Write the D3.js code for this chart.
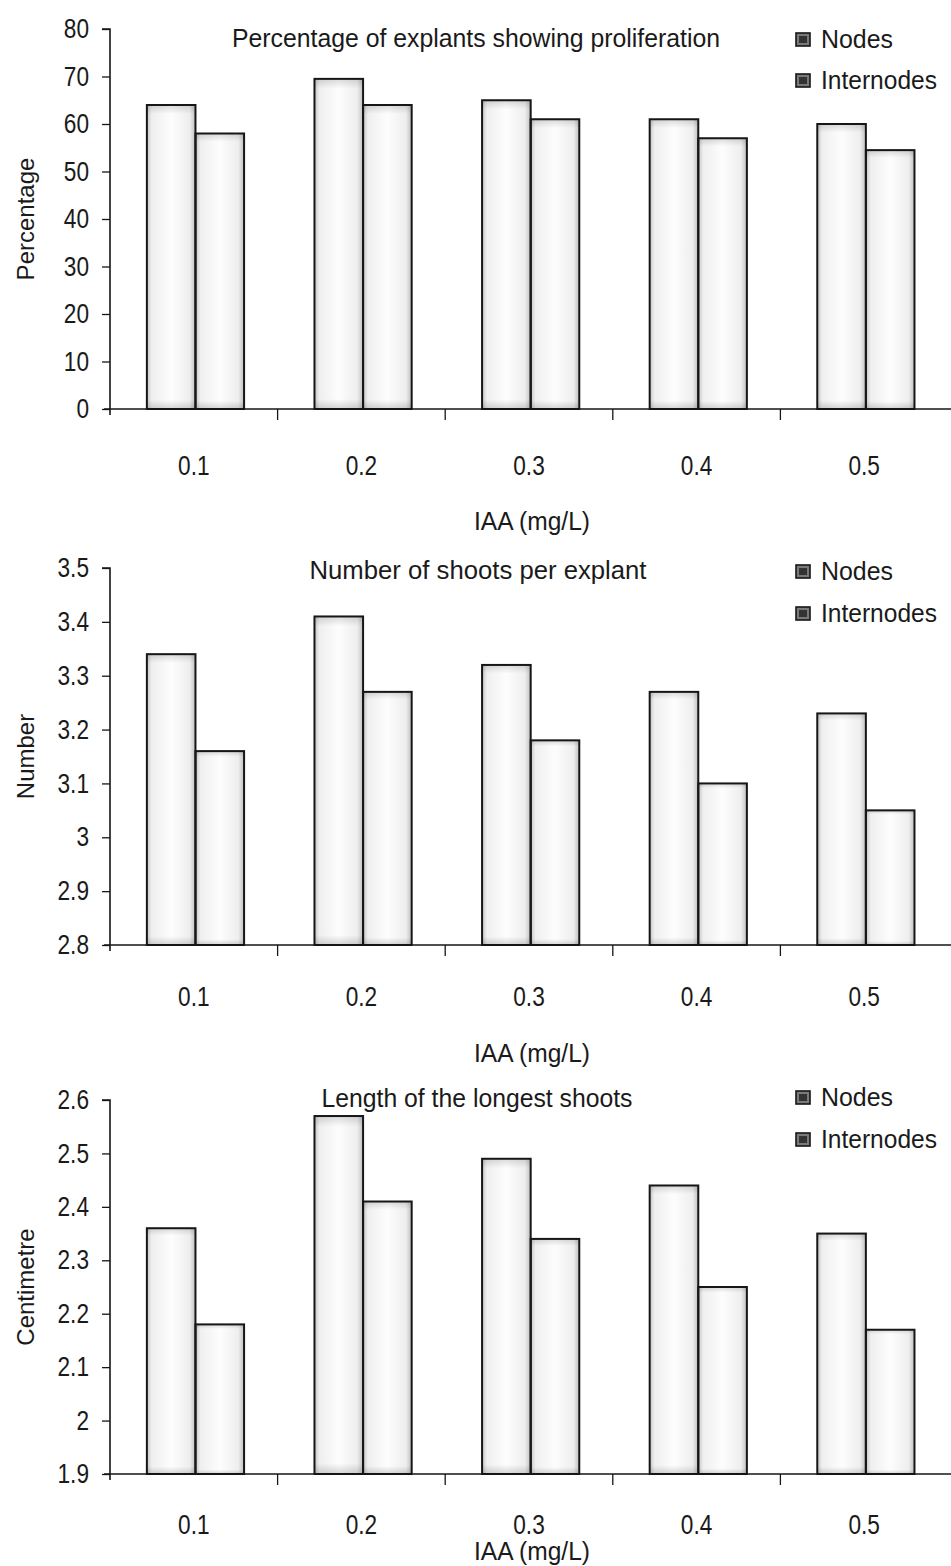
<!DOCTYPE html>
<html>
<head>
<meta charset="utf-8">
<script src="https://cdn.jsdelivr.net/npm/d3@7/dist/d3.min.js"></script>
<style>
  html, body { margin: 0; padding: 0; background: #fff; }
  svg { display: block; }
  text { font-family: "Liberation Sans", Arial, sans-serif; fill: #1a1a1a; }
</style>
</head>
<body>
<svg id="chart" width="951" height="1566"></svg>
<script>
const categories = ["0.1", "0.2", "0.3", "0.4", "0.5"];
const seriesNames = ["Nodes", "Internodes"];

const proliferationNodes = [64, 69.5, 65, 61, 60];
const proliferationInternodes = [58, 64, 61, 57, 54.5];
const proliferationTicks = [0, 10, 20, 30, 40, 50, 60, 70, 80];

const shootsNodes = [3.34, 3.41, 3.32, 3.27, 3.23];
const shootsInternodes = [3.16, 3.27, 3.18, 3.10, 3.05];
const shootsTicks = [2.8, 2.9, 3.0, 3.1, 3.2, 3.3, 3.4, 3.5];

const lengthNodes = [2.36, 2.57, 2.49, 2.44, 2.35];
const lengthInternodes = [2.18, 2.41, 2.34, 2.25, 2.17];
const lengthTicks = [1.9, 2.0, 2.1, 2.2, 2.3, 2.4, 2.5, 2.6];

const titles = ["Percentage of explants showing proliferation", "Number of  shoots per explant", "Length of the longest shoots"];
const yTitles = ["Percentage", "Number", "Centimetre"];
const xTitle = "IAA (mg/L)";

const fmt1 = d => (Math.round(d * 10) / 10).toString();
const panels = [
  { title: titles[0], yTitle: yTitles[0], nodes: proliferationNodes, inter: proliferationInternodes, ticks: proliferationTicks,
    top: 29, bottom: 409, fmt: d => String(d), titleY: 47, titleW: 488, titleX: 476, legY: [48, 89], tickOff: 66, xTitleY: 530 },
  { title: titles[1], yTitle: yTitles[1], nodes: shootsNodes, inter: shootsInternodes, ticks: shootsTicks,
    top: 568, bottom: 945, fmt: fmt1, titleY: 579, titleW: 337, titleX: 478, legY: [580, 622], tickOff: 61, xTitleY: 1062 },
  { title: titles[2], yTitle: yTitles[2], nodes: lengthNodes, inter: lengthInternodes, ticks: lengthTicks,
    top: 1100, bottom: 1474, fmt: fmt1, titleY: 1107, titleW: 311, titleX: 477, legY: [1106, 1148], tickOff: 60, xTitleY: 1560 }
];

const svg = d3.select("#chart");
const defs = svg.append("defs");
const gradH = defs.append("linearGradient").attr("id", "barShadeH").attr("x1", "0").attr("x2", "1").attr("y1", "0").attr("y2", "0");
[["0%", "#c4c4c4"], ["10%", "#efefef"], ["50%", "#fdfdfd"], ["88%", "#eeeeee"], ["100%", "#bfbfbf"]].forEach(s => gradH.append("stop").attr("offset", s[0]).attr("stop-color", s[1]));
const gradV = defs.append("linearGradient").attr("id", "barShadeV").attr("x1", "0").attr("x2", "0").attr("y1", "0").attr("y2", "1");
[["0%", "#000", 0.14], ["3%", "#000", 0.0], ["97%", "#000", 0.0], ["100%", "#000", 0.16]].forEach(s => gradV.append("stop").attr("offset", s[0]).attr("stop-color", s[1]).attr("stop-opacity", s[2]));

const left = 110, right = 948;
const ink = "#161616";

panels.forEach(p => {
  const g = svg.append("g");
  const x = d3.scaleBand().domain(categories).range([left, right]).paddingInner(0).paddingOuter(0);
  const bw = x.bandwidth();
  const x1 = d3.scaleBand().domain(seriesNames).range([bw * 0.22, bw * 0.80]).padding(0);
  const y = d3.scaleLinear().domain([p.ticks[0], p.ticks[p.ticks.length - 1]]).range([p.bottom, p.top]);

  const rows = categories.map((c, i) => ({ cat: c, vals: [{ s: "Nodes", v: p.nodes[i] }, { s: "Internodes", v: p.inter[i] }] }));

  const grp = g.selectAll("g.cat").data(rows).join("g").attr("class", "cat").attr("transform", d => `translate(${x(d.cat)},0)`);
  grp.selectAll("rect.bar").data(d => d.vals).join("rect").attr("class", "bar")
    .attr("x", d => x1(d.s)).attr("width", x1.bandwidth())
    .attr("y", d => y(d.v)).attr("height", d => y(p.ticks[0]) - y(d.v))
    .attr("fill", "url(#barShadeH)");
  grp.selectAll("rect.shade").data(d => d.vals).join("rect").attr("class", "shade")
    .attr("x", d => x1(d.s)).attr("width", x1.bandwidth())
    .attr("y", d => y(d.v)).attr("height", d => y(p.ticks[0]) - y(d.v))
    .attr("fill", "url(#barShadeV)").attr("stroke", ink).attr("stroke-width", 2);

  // y axis
  const yAxis = d3.axisLeft(y).tickValues(p.ticks).tickFormat(p.fmt).tickSize(8);
  const ya = g.append("g").attr("transform", `translate(${left},0)`).call(yAxis);
  ya.select(".domain").attr("stroke", ink).attr("stroke-width", 1.6).attr("d", `M-8,${p.top}H0V${p.bottom + 6}`);
  ya.selectAll(".tick line").attr("stroke", ink).attr("stroke-width", 1.3);
  ya.selectAll(".tick text").attr("font-size", 27).attr("font-family", '"Liberation Sans", Arial, sans-serif')
    .attr("fill", "#1a1a1a").attr("x", -21 / 0.84).attr("transform", "scale(0.84,1)");

  // x axis
  const xAxis = d3.axisBottom(x).tickSize(0).tickPadding(0);
  const xa = g.append("g").attr("transform", `translate(0,${p.bottom})`).call(xAxis);
  xa.select(".domain").attr("stroke", ink).attr("stroke-width", 1.6).attr("d", `M${left - 6},0H951`);
  xa.selectAll(".tick text").attr("font-size", 27).attr("font-family", '"Liberation Sans", Arial, sans-serif')
    .attr("fill", "#1a1a1a").attr("y", p.tickOff).attr("dy", 0).attr("transform", "scale(0.84,1)");
  const bounds = categories.slice(1).map(c => x(c));
  xa.selectAll("line.sep").data(bounds).join("line").attr("class", "sep")
    .attr("x1", d => d).attr("x2", d => d).attr("y1", 0).attr("y2", 11).attr("stroke", ink).attr("stroke-width", 1.3);

  g.append("text").attr("x", 532).attr("y", p.xTitleY).attr("text-anchor", "middle").attr("font-size", 25)
    .attr("textLength", 116).attr("lengthAdjust", "spacingAndGlyphs").text(xTitle);

  // y title
  g.append("text").attr("transform", `translate(34,${(p.top + p.bottom) / 2}) rotate(-90)`).attr("text-anchor", "middle").attr("font-size", 24)
    .text(p.yTitle);

  // chart title
  g.append("text").attr("x", p.titleX).attr("y", p.titleY).attr("text-anchor", "middle").attr("font-size", 25)
    .attr("textLength", p.titleW).attr("lengthAdjust", "spacingAndGlyphs").text(p.title);

  // legend
  const legW = [72, 116];
  seriesNames.forEach((s, i) => {
    const ly = p.legY[i];
    g.append("rect").attr("x", 796).attr("y", ly - 15).attr("width", 14).attr("height", 13).attr("fill", "#7a7a7a").attr("stroke", ink).attr("stroke-width", 1.6);
    g.append("rect").attr("x", 799).attr("y", ly - 12).attr("width", 8).attr("height", 7).attr("fill", "#333");
    g.append("text").attr("x", 821).attr("y", ly).attr("font-size", 25)
      .attr("textLength", legW[i]).attr("lengthAdjust", "spacingAndGlyphs").text(s);
  });
});
</script>
</body>
</html>
